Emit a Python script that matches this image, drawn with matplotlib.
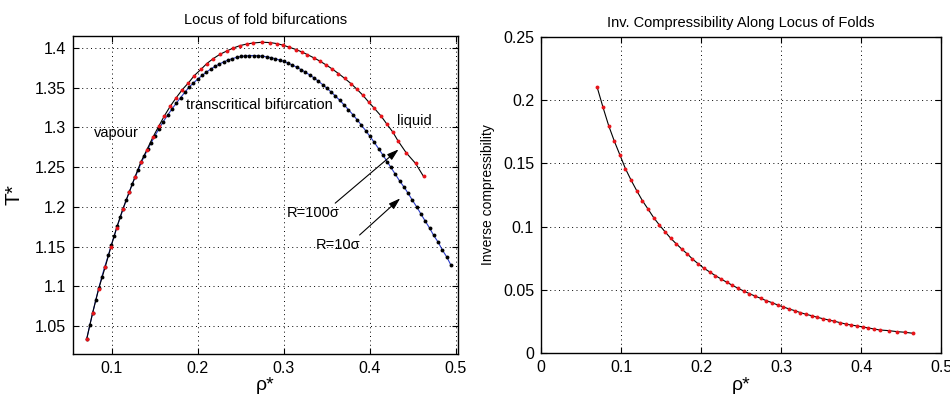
import matplotlib
matplotlib.use("Agg")
import matplotlib.pyplot as plt
from matplotlib.ticker import FuncFormatter

plt.rcParams['font.family'] = ['Liberation Sans', 'DejaVu Sans']

# locus of folds, R = 100 sigma (red dots on black line)
rho_100 = [0.0710, 0.0779, 0.0849, 0.0926, 0.0992, 0.1058, 0.1128, 0.1205, 0.1270, 0.1340,
           0.1407, 0.1477, 0.1547, 0.1612, 0.1681, 0.1748, 0.1821, 0.1891, 0.1960, 0.2038,
           0.2105, 0.2181, 0.2259, 0.2337, 0.2414, 0.2492, 0.2570, 0.2647, 0.2744, 0.2841,
           0.2919, 0.2995, 0.3065, 0.3143, 0.3209, 0.3274, 0.3352, 0.3422, 0.3492, 0.3562,
           0.3635, 0.3705, 0.3779, 0.3849, 0.3914, 0.3984, 0.4053, 0.4128, 0.4198, 0.4267,
           0.4326, 0.4422, 0.4530, 0.4623]
T_100 = [1.034, 1.067, 1.097, 1.125, 1.150, 1.174, 1.197, 1.219, 1.2376, 1.2568,
         1.2715, 1.2874, 1.3016, 1.3146, 1.3268, 1.3372, 1.3477, 1.3560, 1.3653, 1.3732,
         1.3804, 1.3867, 1.3921, 1.3962, 1.4000, 1.4030, 1.4050, 1.4063, 1.4072, 1.4068,
         1.4055, 1.4034, 1.4009, 1.3980, 1.3950, 1.3917, 1.3874, 1.3833, 1.3786, 1.3736,
         1.3678, 1.3619, 1.3553, 1.3481, 1.3410, 1.3322, 1.3239, 1.3146, 1.3041, 1.2941,
         1.2832, 1.2681, 1.2548, 1.2384]

# locus of folds, R = 10 sigma (black dots on blue line)
rho_10 = [0.0710, 0.0745, 0.0780, 0.0815, 0.0850, 0.0885, 0.0920, 0.0960, 0.0995, 0.1030,
          0.1065, 0.1100, 0.1135, 0.1170, 0.1205, 0.1240, 0.1275, 0.1310, 0.1345, 0.1380,
          0.1420, 0.1460, 0.1500, 0.1550, 0.1600, 0.1650, 0.1700, 0.1750, 0.1800, 0.1850,
          0.1900, 0.1950, 0.2000, 0.2050, 0.2100, 0.2150, 0.2200, 0.2250, 0.2300, 0.2350,
          0.2400, 0.2450, 0.2500, 0.2550, 0.2600, 0.2650, 0.2700, 0.2750, 0.2800, 0.2850,
          0.2900, 0.2950, 0.3000, 0.3050, 0.3100, 0.3150, 0.3200, 0.3250, 0.3300, 0.3350,
          0.3400, 0.3450, 0.3500, 0.3550, 0.3600, 0.3650, 0.3700, 0.3750, 0.3800, 0.3850,
          0.3900, 0.3950, 0.4000, 0.4050, 0.4100, 0.4150, 0.4200, 0.4244, 0.4295, 0.4344,
          0.4399, 0.4445, 0.4492, 0.4547, 0.4593, 0.4640, 0.4693, 0.4740, 0.4794, 0.4841,
          0.4895, 0.4942]
T_10 = [1.034, 1.051, 1.067, 1.083, 1.098, 1.112, 1.125, 1.139, 1.152, 1.164,
        1.176, 1.187, 1.198, 1.209, 1.219, 1.229, 1.238, 1.247, 1.256, 1.264,
        1.273, 1.281, 1.289, 1.2985, 1.3075, 1.3155, 1.3232, 1.3305, 1.3375, 1.3443,
        1.3508, 1.3560, 1.3609, 1.3654, 1.3696, 1.3734, 1.3768, 1.3798, 1.3824, 1.3847,
        1.3866, 1.3881, 1.3893, 1.3900, 1.3904, 1.3905, 1.3902, 1.3897, 1.3889, 1.3878,
        1.3865, 1.3849, 1.3830, 1.3809, 1.3785, 1.3758, 1.3728, 1.3696, 1.3661, 1.3624,
        1.3583, 1.3540, 1.3494, 1.3446, 1.3395, 1.3341, 1.3284, 1.3225, 1.3163, 1.3099,
        1.3031, 1.2961, 1.2888, 1.2813, 1.2735, 1.2654, 1.2571, 1.2497, 1.2412, 1.2329,
        1.2246, 1.2170, 1.2087, 1.1995, 1.1911, 1.1827, 1.1735, 1.1643, 1.1555, 1.1459,
        1.1367, 1.1266]

# inverse compressibility along the R = 100 sigma locus
rho_ic = [0.0699, 0.0774, 0.0845, 0.0916, 0.0987, 0.1054, 0.1124, 0.1195, 0.1266, 0.1336,
          0.1407, 0.1478, 0.1548, 0.1620, 0.1691, 0.1761, 0.1828, 0.1890, 0.1966, 0.2036,
          0.2107, 0.2178, 0.2248, 0.2319, 0.2390, 0.2460, 0.2531, 0.2602, 0.2672, 0.2743,
          0.2815, 0.2885, 0.2956, 0.3027, 0.3097, 0.3168, 0.3239, 0.3309, 0.3380, 0.3452,
          0.3522, 0.3593, 0.3664, 0.3734, 0.3805, 0.3876, 0.3946, 0.4017, 0.4088, 0.4158,
          0.4230, 0.4342, 0.4446, 0.4545, 0.4645]
inv_comp = [0.2105, 0.1942, 0.1797, 0.1674, 0.1563, 0.1458, 0.1368, 0.1284, 0.1205, 0.1139,
            0.1071, 0.1013, 0.0960, 0.0908, 0.0863, 0.0821, 0.0784, 0.0745, 0.0705, 0.0671,
            0.0642, 0.0613, 0.0587, 0.0561, 0.0537, 0.0513, 0.0492, 0.0471, 0.0452, 0.0434,
            0.0415, 0.0400, 0.0381, 0.0366, 0.0350, 0.0337, 0.0321, 0.0308, 0.0297, 0.0284,
            0.0273, 0.0263, 0.0253, 0.0242, 0.0231, 0.0223, 0.0216, 0.0208, 0.0200, 0.0192,
            0.0184, 0.0179, 0.0171, 0.0166, 0.0158]

fmt = FuncFormatter(lambda v, p: '%g' % round(v, 4))


def style(ax):
    ax.grid(True, color='black', linestyle=(0, (1, 3.5)), linewidth=0.7)
    ax.tick_params(direction='in', top=True, right=True, length=4, width=0.8,
                   labelsize=11.5, pad=5)
    for s in ax.spines.values():
        s.set_linewidth(1.0)
    ax.xaxis.set_major_formatter(fmt)
    ax.yaxis.set_major_formatter(fmt)


fig = plt.figure(figsize=(9.5, 3.94), dpi=100)
ax1 = fig.add_axes([0.0768, 0.1015, 0.405, 0.807])
ax2 = fig.add_axes([0.5695, 0.1033, 0.4215, 0.8036])

# left: locus of fold bifurcations (R=10 first so the red dots sit on top)
ax1.plot(rho_10, T_10, color='#2b3cc8', linewidth=0.8)
ax1.plot(rho_10, T_10, 'o', color='black', markersize=2.8, markeredgewidth=0)
ax1.plot(rho_100, T_100, color='black', linewidth=0.8)
ax1.plot(rho_100, T_100, 'o', color='#e8141a', markersize=2.8, markeredgewidth=0)
ax1.set_xlim(0.055, 0.502)
ax1.set_ylim(1.015, 1.415)
ax1.set_xticks([0.1, 0.2, 0.3, 0.4, 0.5])
ax1.set_yticks([1.05, 1.1, 1.15, 1.2, 1.25, 1.3, 1.35, 1.4])
style(ax1)
ax1.set_title('Locus of fold bifurcations', fontsize=10.5, pad=9)
ax1.set_xlabel('ρ*', fontsize=14, labelpad=1)
ax1.set_ylabel('T*', fontsize=15, labelpad=8)

ax1.text(0.0795, 1.2928, 'vapour', fontsize=10.5, va='center')
ax1.text(0.186, 1.328, 'transcritical bifurcation', fontsize=10.5, va='center')
ax1.text(0.4314, 1.3083, 'liquid', fontsize=10.5, va='center')

arrow = dict(arrowstyle='-|>,head_length=0.7,head_width=0.22', color='black',
             lw=0.8, shrinkA=0, shrinkB=0)
ax1.text(0.334, 1.1924, 'R=100σ', fontsize=10.5, ha='center', va='center')
ax1.annotate('', xy=(0.4333, 1.2724), xytext=(0.3597, 1.2048), arrowprops=arrow)
ax1.text(0.3635, 1.152, 'R=10σ', fontsize=10.5, ha='center', va='center')
ax1.annotate('', xy=(0.4352, 1.2108), xytext=(0.388, 1.1647), arrowprops=arrow)

# right: inverse compressibility
ax2.plot(rho_ic, inv_comp, color='black', linewidth=0.8)
ax2.plot(rho_ic, inv_comp, 'o', color='#e8141a', markersize=2.8, markeredgewidth=0)
ax2.set_xlim(0, 0.5)
ax2.set_ylim(0, 0.25)
ax2.set_xticks([0, 0.1, 0.2, 0.3, 0.4, 0.5])
ax2.set_yticks([0, 0.05, 0.1, 0.15, 0.2, 0.25])
style(ax2)
ax2.set_title('Inv. Compressibility Along Locus of Folds', fontsize=10.5, pad=7)
ax2.set_xlabel('ρ*', fontsize=14, labelpad=1)
ax2.set_ylabel('Inverse compressibility', fontsize=10, labelpad=6)

fig.savefig('out.png', dpi=100)
